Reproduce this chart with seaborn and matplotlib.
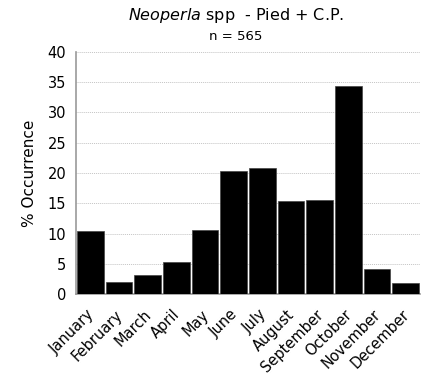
import matplotlib
matplotlib.use("Agg")
import matplotlib.pyplot as plt
import matplotlib.transforms as mtransforms
import numpy as np
import pandas as pd
import seaborn as sns

months = ["January", "February", "March", "April", "May", "June",
          "July", "August", "September", "October", "November", "December"]
occurrence = [10.4, 2.0, 3.1, 5.3, 10.6, 20.3, 20.8, 15.4, 15.5, 34.4, 4.2, 1.8]
y_ticks = [0, 5, 10, 15, 20, 25, 30, 35, 40]

df = pd.DataFrame({"month": months, "pct": occurrence})

sns.set_style("white")
plt.rcParams["font.family"] = ["DejaVu Sans"]
plt.rcParams["mathtext.fontset"] = "dejavusans"
plt.rcParams["text.color"] = "black"
plt.rcParams["axes.labelcolor"] = "black"
plt.rcParams["xtick.color"] = "black"
plt.rcParams["ytick.color"] = "black"

fig = plt.figure(figsize=(4.23, 3.79), dpi=100)
ax = fig.add_axes([0.18, 0.2235, 0.813, 0.64])

sns.barplot(data=df, x="month", y="pct", color="black", saturation=1,
            width=0.93, edgecolor="#444444", linewidth=0.5, ax=ax, zorder=3)

ax.set_ylim(0, 40)
ax.set_xlim(-0.5, len(months) - 0.5)
ax.set_yticks(y_ticks)
ax.yaxis.grid(True, linestyle=(0, (1, 1)), color="#c4c4c4", linewidth=0.7, zorder=0)
ax.set_axisbelow(True)

for side in ["top", "right"]:
    ax.spines[side].set_visible(False)
for side in ["left", "bottom"]:
    ax.spines[side].set_color("#999999")
    ax.spines[side].set_linewidth(1.2)

# ticks sit between categories on the x axis
ax.set_xticks(np.arange(-0.5, len(months) + 0.5, 1), minor=True)
ax.tick_params(axis="x", which="minor", length=5, color="#999999", width=1.2, direction="out")
ax.tick_params(axis="x", which="major", length=0, pad=7)
ax.tick_params(axis="y", length=5, color="#999999", labelcolor="black", width=1.2,
               direction="out", labelsize=10.5, pad=2)
ax.set_xticks(range(len(months)))
ax.set_xticklabels(months, rotation=45, ha="right", rotation_mode="anchor", fontsize=10.5,
                   color="black")
# nudge the slanted labels a bit down-left, like the original
shift = mtransforms.ScaledTranslation(-4 / 100, -3 / 100, fig.dpi_scale_trans)
for lbl in ax.get_xticklabels():
    lbl.set_transform(lbl.get_transform() + shift)

ax.set_xlabel("")
ax.set_ylabel("% Occurrence", fontsize=11, labelpad=8)

fig.text(0.557, 0.958, r"$\it{Neoperla}$ spp  - Pied + C.P.", ha="center", va="center", fontsize=11.5)
fig.text(0.558, 0.905, "n = 565", ha="center", va="center", fontsize=9.5)

fig.savefig("out.png", dpi=100)
